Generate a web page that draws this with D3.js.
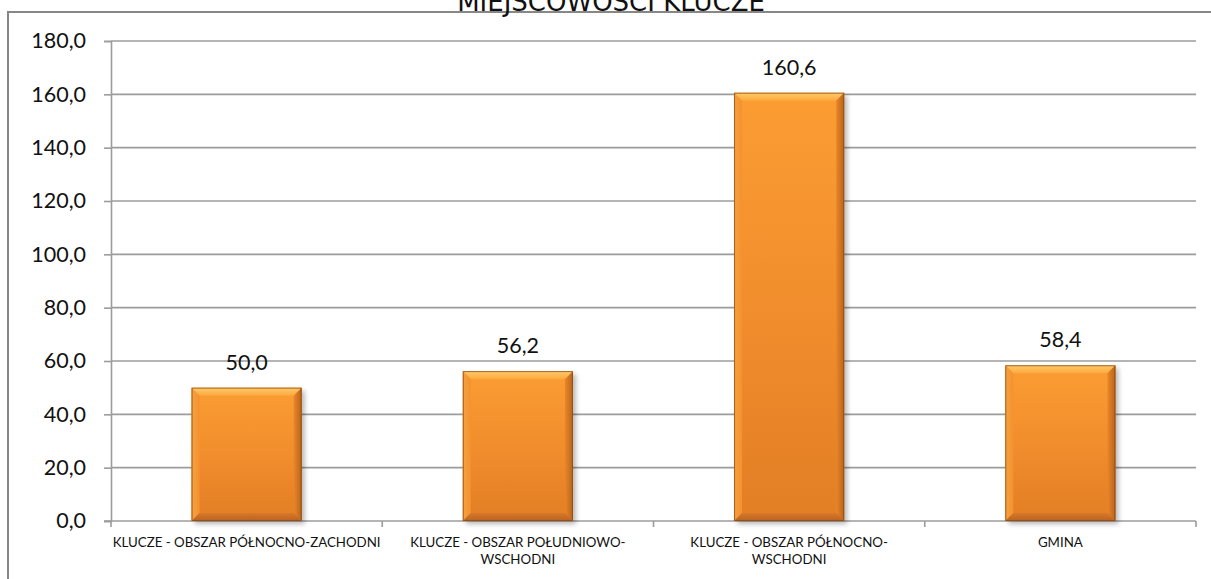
<!DOCTYPE html>
<html>
<head>
<meta charset="utf-8">
<script src="https://cdn.jsdelivr.net/npm/d3@7"></script>
<style>
  html, body { margin: 0; padding: 0; background: #fff; }
  svg { display: block; }
</style>
</head>
<body>
<svg id="chart" width="1211" height="579"></svg>
<script>
// Chart data
const title = "MIEJSCOWOŚCI KLUCZE";
const categories = [
  "KLUCZE - OBSZAR PÓŁNOCNO-ZACHODNI",
  "KLUCZE - OBSZAR POŁUDNIOWO-WSCHODNI",
  "KLUCZE - OBSZAR PÓŁNOCNO-WSCHODNI",
  "GMINA"
];
// Axis label lines for each category
const categoryLabelLines = [
  ["KLUCZE - OBSZAR PÓŁNOCNO-ZACHODNI"],
  ["KLUCZE - OBSZAR POŁUDNIOWO-", "WSCHODNI"],
  ["KLUCZE - OBSZAR PÓŁNOCNO-", "WSCHODNI"],
  ["GMINA"]
];
const values = [50.0, 56.2, 160.6, 58.4];
const yTicks = [0, 20, 40, 60, 80, 100, 120, 140, 160, 180];

const fmt = v => d3.format(".1f")(v).replace(".", ",");

const svg = d3.select("#chart");
const W = 1211, H = 579;
const plot = { left: 111, right: 1196, top: 41, bottom: 521 };

const x = d3.scaleBand()
  .domain(categories)
  .range([plot.left, plot.right])
  .paddingInner(0.594)
  .paddingOuter(0.297);
const xb = d3.scaleBand().domain(categories).range([plot.left, plot.right]);
const y = d3.scaleLinear().domain([0, 180]).range([plot.bottom, plot.top]);

// Defs: gradients and shadow
const defs = svg.append("defs");
const face = defs.append("linearGradient").attr("id", "face")
  .attr("x1", 0).attr("y1", 0).attr("x2", 0).attr("y2", 1);
face.append("stop").attr("offset", "0%").attr("stop-color", "#FB9D33");
face.append("stop").attr("offset", "55%").attr("stop-color", "#F08C2C");
face.append("stop").attr("offset", "100%").attr("stop-color", "#E27E24");

const topBevel = defs.append("linearGradient").attr("id", "topBevel")
  .attr("x1", 0).attr("y1", 0).attr("x2", 0).attr("y2", 1);
topBevel.append("stop").attr("offset", "0%").attr("stop-color", "#FFCB6A");
topBevel.append("stop").attr("offset", "100%").attr("stop-color", "#FCA93E");

const rightBevel = defs.append("linearGradient").attr("id", "rightBevel")
  .attr("x1", 0).attr("y1", 0).attr("x2", 1).attr("y2", 0);
rightBevel.append("stop").attr("offset", "0%").attr("stop-color", "#E98629");
rightBevel.append("stop").attr("offset", "100%").attr("stop-color", "#B8631B");

const leftBevel = defs.append("linearGradient").attr("id", "leftBevel")
  .attr("x1", 0).attr("y1", 0).attr("x2", 1).attr("y2", 0);
leftBevel.append("stop").attr("offset", "0%").attr("stop-color", "#F7A140");
leftBevel.append("stop").attr("offset", "100%").attr("stop-color", "#F3922F");

const bottomBevel = defs.append("linearGradient").attr("id", "bottomBevel")
  .attr("x1", 0).attr("y1", 0).attr("x2", 0).attr("y2", 1);
bottomBevel.append("stop").attr("offset", "0%").attr("stop-color", "#D9782A");
bottomBevel.append("stop").attr("offset", "100%").attr("stop-color", "#B9621F");

const blur = defs.append("filter").attr("id", "shadow")
  .attr("x", "-20%").attr("y", "-20%").attr("width", "140%").attr("height", "140%");
blur.append("feGaussianBlur").attr("stdDeviation", 2.5);

// Outer chart frame
svg.append("rect")
  .attr("x", 8).attr("y", 12)
  .attr("width", W + 20).attr("height", H + 20)
  .attr("fill", "none")
  .attr("stroke", "#878787")
  .attr("stroke-width", 2);

// Title (partly above the top edge)
svg.append("text")
  .attr("x", 611).attr("y", 11)
  .attr("text-anchor", "middle")
  .attr("font-family", "DejaVu Sans, Verdana, sans-serif")
  .attr("font-size", 26)
  .attr("fill", "#111")
  .text(title);

// Gridlines
svg.append("g").selectAll("line")
  .data(yTicks.filter(d => d > 0))
  .join("line")
  .attr("x1", plot.left).attr("x2", plot.right)
  .attr("y1", d => y(d)).attr("y2", d => y(d))
  .attr("stroke", "#9C9C9C")
  .attr("stroke-width", 1.6);

// Y axis
const yAxis = d3.axisLeft(y)
  .tickValues(yTicks)
  .tickFormat(fmt)
  .tickSize(7)
  .tickPadding(18);
const gy = svg.append("g")
  .attr("transform", `translate(${plot.left},0)`)
  .call(yAxis);
gy.select(".domain").attr("stroke", "#9C9C9C").attr("stroke-width", 1.6);
gy.selectAll(".tick line").attr("stroke", "#9C9C9C").attr("stroke-width", 1.6);
gy.selectAll(".tick text")
  .attr("font-family", "Lato, 'Open Sans', sans-serif")
  .attr("font-size", 21.5)
  .attr("fill", "#111");

// X axis: baseline with category boundary ticks
const gx = svg.append("g");
gx.append("line")
  .attr("x1", plot.left - 7).attr("x2", plot.right)
  .attr("y1", plot.bottom).attr("y2", plot.bottom)
  .attr("stroke", "#9C9C9C").attr("stroke-width", 1.6);
const bounds = categories.map(c => xb(c)).concat([plot.right]);
gx.selectAll("line.tk")
  .data(bounds)
  .join("line")
  .attr("class", "tk")
  .attr("x1", d => d).attr("x2", d => d)
  .attr("y1", plot.bottom).attr("y2", plot.bottom + 6)
  .attr("stroke", "#9C9C9C").attr("stroke-width", 1.6);

// Bars with bevelled edges
const bev = 8;
const bars = svg.append("g").selectAll("g.bar")
  .data(categories.map((c, i) => ({ c, v: values[i] })))
  .join("g")
  .attr("class", "bar");

bars.each(function(d) {
  const g = d3.select(this);
  const x0 = x(d.c), w = x.bandwidth();
  const y0 = y(d.v), h = y(0) - y(d.v);
  const b = Math.min(bev, h / 2);
  g.append("rect")
    .attr("x", x0 + 3).attr("y", y0 + 3)
    .attr("width", w).attr("height", h)
    .attr("fill", "#000").attr("opacity", 0.28)
    .attr("filter", "url(#shadow)");
  g.append("rect")
    .attr("x", x0).attr("y", y0).attr("width", w).attr("height", h)
    .attr("fill", "url(#face)");
  const pts = a => a.map(p => p.join(",")).join(" ");
  g.append("polygon").attr("fill", "url(#topBevel)")
    .attr("points", pts([[x0, y0], [x0 + w, y0], [x0 + w - b, y0 + b], [x0 + b, y0 + b]]));
  g.append("polygon").attr("fill", "url(#leftBevel)")
    .attr("points", pts([[x0, y0], [x0 + b, y0 + b], [x0 + b, y0 + h - b], [x0, y0 + h]]));
  g.append("polygon").attr("fill", "url(#rightBevel)")
    .attr("points", pts([[x0 + w, y0], [x0 + w - b, y0 + b], [x0 + w - b, y0 + h - b], [x0 + w, y0 + h]]));
  g.append("polygon").attr("fill", "url(#bottomBevel)")
    .attr("points", pts([[x0, y0 + h], [x0 + b, y0 + h - b], [x0 + w - b, y0 + h - b], [x0 + w, y0 + h]]));
  g.append("rect")
    .attr("x", x0 + 0.5).attr("y", y0 + 0.5).attr("width", w - 1).attr("height", h - 1)
    .attr("fill", "none").attr("stroke", "#8A4A12").attr("stroke-width", 1).attr("opacity", 0.75);
});

// Value labels
svg.append("g").selectAll("text")
  .data(categories.map((c, i) => ({ c, v: values[i] })))
  .join("text")
  .attr("x", d => x(d.c) + x.bandwidth() / 2)
  .attr("y", d => y(d.v) - 18)
  .attr("text-anchor", "middle")
  .attr("font-family", "Lato, 'Open Sans', sans-serif")
  .attr("font-size", 21.5)
  .attr("fill", "#111")
  .text(d => fmt(d.v));

// Category labels
const labelG = svg.append("g")
  .attr("font-family", "Lato, 'Open Sans', sans-serif")
  .attr("font-size", 13.3)
  .attr("fill", "#111");

categories.forEach((c, i) => {
  const cx = xb(c) + xb.bandwidth() / 2;
  const t = labelG.append("text").attr("text-anchor", "middle");
  categoryLabelLines[i].forEach((ln, j) => {
    t.append("tspan").attr("x", cx).attr("y", 547 + j * 17).text(ln);
  });
});
</script>
</body>
</html>
